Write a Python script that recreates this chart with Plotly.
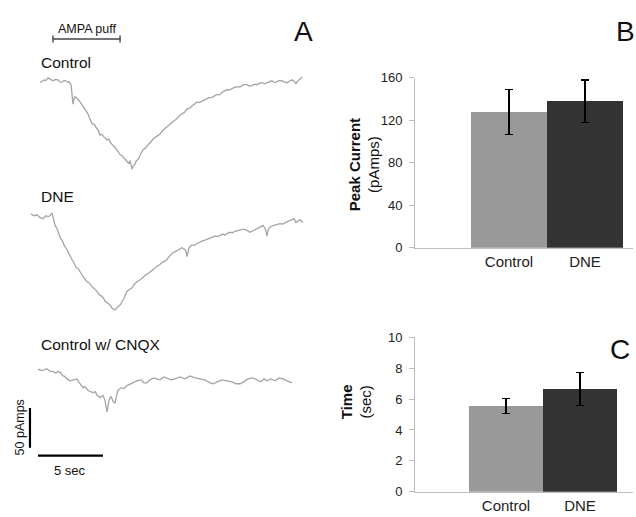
import plotly.graph_objects as go

W, H = 636, 517

# ---------------- Data: whole-cell current traces (time in s, current in pA) -------------
ctrl_t = [0.69, 0.85, 1.0, 1.15, 1.31, 1.5, 1.69, 1.85, 2.08, 2.23, 2.38, 2.54, 2.69, 2.85, 2.92,
          3.08, 3.15, 3.23, 3.31, 3.38, 3.5, 3.62, 3.8, 4.0, 4.15, 4.38, 4.5, 4.69, 4.85, 5.08,
          5.2, 5.31, 5.46, 5.62, 5.75, 5.85, 6.0, 6.08, 6.2, 6.31, 6.46, 6.62, 6.75, 6.85, 7.0,
          7.23, 7.35, 7.46, 7.55, 7.62, 7.7, 7.77, 7.85, 8.0, 8.1, 8.23, 8.4, 8.62, 8.75, 8.92,
          9.05, 9.15, 9.4, 9.69, 9.9, 10.15, 10.4, 10.69, 10.9, 11.23, 11.4, 11.62, 11.8, 12.0,
          12.2, 12.38, 12.55, 12.77, 12.95, 13.15, 13.35, 13.54, 13.7, 13.92, 14.1, 14.31, 14.5,
          14.69, 14.9, 15.08, 15.25, 15.46, 15.65, 15.85, 16.05, 16.23, 16.4, 16.62, 16.8, 17.0,
          17.2, 17.38, 17.55, 17.77, 17.95, 18.15, 18.35, 18.54, 18.7, 18.92, 19.1, 19.31, 19.5,
          19.69, 19.9, 20.08, 20.25, 20.38, 20.55, 20.7, 20.85]
ctrl_i = [-1.2, 1.0, 2.4, 1.5, 4.9, 3.0, 1.2, 2.8, 2.4, -0.5, 0.0, 1.5, 1.2, -0.8, 0.0,
          -3.7, -13.4, -28.0, -22.0, -18.3, -20.5, -22.0, -26.0, -30.5, -35.0, -40.2, -45.5, -52.4, -53.5, -58.5,
          -62.0, -67.0, -66.0, -69.5, -71.0, -73.2, -72.0, -75.6, -78.0, -80.5, -82.0, -86.6, -89.0, -91.5, -93.0,
          -97.6, -99.0, -101.2, -103.0, -98.8, -104.0, -109.8, -106.0, -103.7, -99.0, -97.6, -92.0, -85.4, -84.0, -80.5,
          -78.5, -76.8, -72.0, -68.3, -66.0, -61.0, -57.5, -52.4, -50.5, -46.3, -43.0, -40.2, -38.5, -34.1,
          -33.5, -30.5, -28.0, -25.6, -26.0, -24.4, -22.5, -22.0, -20.0, -19.5, -17.5, -15.9, -16.5,
          -13.4, -11.5, -9.8, -10.5, -8.5, -7.0, -6.1, -6.8, -4.9, -3.5, -3.7, -5.5, -4.9,
          -3.0, -3.7, -2.0, -1.2, -2.5, -1.2, 0.5, 1.2, -0.8, 0.0, 1.8, 1.2, -0.5,
          -1.2, 1.0, 2.4, 0.5, -2.4, 1.5, 3.0, 6.1]

dne_t = [0.0, 0.23, 0.46, 0.69, 0.92, 1.15, 1.3, 1.46, 1.62, 1.75, 1.85, 2.0, 2.08, 2.23, 2.4,
         2.54, 2.77, 3.0, 3.15, 3.3, 3.46, 3.62, 3.77, 3.92, 4.08, 4.31, 4.46, 4.62, 4.77, 4.92,
         5.08, 5.23, 5.46, 5.6, 5.69, 5.92, 6.08, 6.23, 6.35, 6.46, 6.58, 6.69, 6.85, 7.0, 7.15,
         7.38, 7.62, 7.8, 7.92, 8.15, 8.35, 8.54, 8.7, 8.92, 9.1, 9.31, 9.5, 9.69, 9.9, 10.08,
         10.3, 10.46, 10.69, 10.92, 11.1, 11.31, 11.45, 11.62, 11.85, 11.95, 12.0, 12.08, 12.15, 12.38,
         12.55, 12.69, 12.85, 13.0, 13.2, 13.38, 13.55, 13.77, 13.95, 14.15, 14.35, 14.54, 14.75, 14.92,
         15.1, 15.31, 15.5, 15.69, 15.9, 16.08, 16.25, 16.46, 16.65, 16.85, 17.0, 17.15, 17.3, 17.46,
         17.65, 17.85, 18.0, 18.08, 18.15, 18.22, 18.31, 18.45, 18.62, 18.8, 18.92, 19.15, 19.35,
         19.54, 19.75, 19.92, 20.08, 20.23, 20.38, 20.55, 20.69, 20.92]
dne_i = [2.4, 0.0, 1.2, -2.4, -3.7, 0.0, -1.0, 0.0, 3.7, -4.0, -12.2, -16.0, -20.7, -26.8, -31.0,
         -36.6, -42.7, -51.2, -54.9, -59.0, -64.6, -66.5, -70.7, -74.0, -78.0, -82.9, -84.0, -87.8, -90.0, -91.5,
         -95.0, -98.8, -101.2, -104.0, -107.3, -109.8, -112.0, -115.9, -117.0, -118.3, -116.0, -114.6, -112.2, -108.0, -103.7,
         -95.1, -92.7, -90.0, -86.6, -82.9, -81.0, -78.0, -76.0, -73.2, -71.5, -68.3, -66.0, -63.4, -61.5, -58.5,
         -57.0, -54.9, -50.0, -46.3, -45.0, -42.7, -41.0, -40.2, -42.7, -46.0, -51.2, -44.0, -40.2, -36.6,
         -37.5, -35.4, -34.0, -32.9, -31.5, -30.5, -29.5, -28.0, -27.0, -25.6, -26.0, -24.4, -23.0, -24.4,
         -22.0, -20.7, -21.5, -19.5, -18.5, -18.3, -17.0, -17.1, -19.0, -20.7, -19.5, -18.0, -17.5, -15.9,
         -14.0, -12.2, -15.9, -20.0, -25.6, -19.0, -15.9, -13.5, -12.2, -11.5, -11.0, -9.8, -10.5,
         -8.5, -7.0, -6.1, -5.0, -3.7, -8.5, -6.0, -4.9, -8.5]

cnqx_t = [0.54, 0.8, 1.0, 1.2, 1.46, 1.7, 1.92, 2.1, 2.23, 2.46, 2.6, 2.77, 3.0, 3.23, 3.54,
          3.77, 4.0, 4.15, 4.31, 4.54, 4.77, 4.95, 5.08, 5.31, 5.54, 5.69, 5.85, 6.0, 6.15, 6.31,
          6.46, 6.62, 6.69, 6.92, 7.15, 7.38, 7.69, 7.92, 8.15, 8.46, 8.69, 8.92, 9.15, 9.46, 9.69,
          9.92, 10.23, 10.46, 10.77, 11.08, 11.46, 11.85, 12.23, 12.62, 13.0, 13.38, 13.77, 14.0, 14.31,
          14.69, 15.08, 15.46, 15.77, 16.08, 16.38, 16.69, 17.08, 17.38, 17.69, 17.92, 18.15, 18.46,
          18.77, 19.08, 19.38, 19.69, 19.92, 20.08]
cnqx_i = [0.0, -1.5, -1.2, 0.5, -2.4, -3.0, -4.9, -3.0, -3.7, -8.5, -9.0, -12.2, -14.6, -13.4, -12.2,
          -18.3, -23.2, -22.0, -25.6, -28.0, -29.3, -28.5, -32.9, -35.4, -32.9, -39.0, -53.7, -39.0, -34.1, -40.2,
          -42.7, -30.5, -26.8, -23.2, -24.4, -20.7, -18.3, -15.9, -14.6, -13.4, -17.1, -17.1, -13.4, -11.0, -12.2,
          -13.4, -9.8, -11.0, -13.4, -12.2, -9.8, -12.2, -8.5, -11.0, -12.2, -13.4, -17.1, -18.3, -15.9,
          -13.4, -14.6, -15.9, -18.3, -18.3, -15.9, -12.2, -11.0, -13.4, -15.9, -12.2, -14.6, -12.2,
          -14.6, -11.0, -12.2, -14.6, -15.9, -17.1]

trace_labels = ["Control", "DNE", "Control w/ CNQX"]

# scale bars / stimulus
scale_pa = 50          # pA
scale_s = 5            # s
puff_on, puff_off = 1.69, 6.85   # s

# ---------------- Data: bar charts ----------------
groups = ["Control", "DNE"]
peak_mean = [128, 138]
peak_err = [21, 20]
time_mean = [5.55, 6.65]
time_err = [0.5, 1.08]
bar_colors = ["#999999", "#333333"]

# ---------------- layout helpers (pixel -> paper) ----------------
PX_PER_S = 13.0
PX_PER_PA = 0.82
T0_PX = 31.0


def pxx(x):
    return x / W


def pxy(y):
    return 1 - y / H


def trace_yaxis(top, bottom, zero):
    return dict(domain=[1 - bottom / H, 1 - top / H],
                range=[-(bottom - zero) / PX_PER_PA, (zero - top) / PX_PER_PA],
                visible=False, anchor="x", fixedrange=True)


TRACE_COLOR = "#a4a4a4"
AXCOL = "#bdbdbd"
FONT = "Liberation Sans, Arial, sans-serif"

fig = go.Figure()

fig.add_trace(go.Scatter(x=ctrl_t, y=ctrl_i, mode="lines", xaxis="x", yaxis="y",
                         line=dict(color=TRACE_COLOR, width=1.3), showlegend=False))
fig.add_trace(go.Scatter(x=dne_t, y=dne_i, mode="lines", xaxis="x", yaxis="y2",
                         line=dict(color=TRACE_COLOR, width=1.3), showlegend=False))
fig.add_trace(go.Scatter(x=cnqx_t, y=cnqx_i, mode="lines", xaxis="x", yaxis="y3",
                         line=dict(color=TRACE_COLOR, width=1.3), showlegend=False))

# stimulus bar (AMPA puff), in control trace axis
puff_level = 53.7
fig.add_trace(go.Scatter(x=[puff_on, puff_off], y=[puff_level, puff_level], mode="lines+markers",
                         xaxis="x", yaxis="y", line=dict(color="#444444", width=1.4),
                         marker=dict(symbol="line-ns-open", size=5, color="#444444",
                                     line=dict(width=1.4, color="#444444")),
                         showlegend=False))

# scale bars in CNQX axis
vbar_t, vbar_top = -0.08, -48.8
fig.add_trace(go.Scatter(x=[vbar_t, vbar_t], y=[vbar_top, vbar_top - scale_pa], mode="lines",
                         xaxis="x", yaxis="y3", line=dict(color="black", width=2.2),
                         showlegend=False))
hbar_t0, hbar_level = 0.54, -108.5
fig.add_trace(go.Scatter(x=[hbar_t0, hbar_t0 + scale_s], y=[hbar_level, hbar_level], mode="lines",
                         xaxis="x", yaxis="y3", line=dict(color="black", width=2.2),
                         showlegend=False))

# bar charts
err_style = dict(type="data", color="black", thickness=1.3, width=4)
fig.add_trace(go.Bar(x=groups, y=peak_mean, xaxis="x2", yaxis="y4",
                     marker=dict(color=bar_colors, line=dict(width=0)),
                     error_y=dict(array=peak_err, **err_style), showlegend=False))
fig.add_trace(go.Bar(x=groups, y=time_mean, xaxis="x3", yaxis="y5",
                     marker=dict(color=bar_colors, line=dict(width=0)),
                     error_y=dict(array=time_err, **err_style), showlegend=False))

bar_y_common = dict(showline=True, linecolor=AXCOL, linewidth=1, ticks="outside",
                    ticklen=5, tickcolor=AXCOL, showgrid=False, zeroline=False,
                    tickfont=dict(family=FONT, size=13, color="#222222"),
                    ticklabelstandoff=4, fixedrange=True)
bar_x_common = dict(showline=True, linecolor=AXCOL, linewidth=1, ticks="",
                    showgrid=False, zeroline=False,
                    tickfont=dict(family=FONT, size=15, color="#222222"), fixedrange=True)

fig.update_layout(
    width=W, height=H, margin=dict(l=0, r=0, t=0, b=0),
    paper_bgcolor="white", plot_bgcolor="rgba(0,0,0,0)",
    bargap=0,
    font=dict(family=FONT, color="#111111"),
    xaxis=dict(domain=[0, pxx(320)], range=[-T0_PX / PX_PER_S, (320 - T0_PX) / PX_PER_S],
               visible=False, anchor="y", fixedrange=True),
    yaxis=trace_yaxis(10, 180, 77),
    yaxis2=trace_yaxis(180, 330, 215),
    yaxis3=trace_yaxis(330, 500, 373),
    xaxis2=dict(domain=[pxx(415), pxx(633)], anchor="y4", range=[-1.237, 1.632], **bar_x_common),
    yaxis4=dict(domain=[pxy(248), pxy(73)], anchor="x2", range=[0, 160],
                tickvals=[0, 40, 80, 120, 160], **bar_y_common),
    xaxis3=dict(domain=[pxx(415), pxx(633)], anchor="y5", range=[-1.23, 1.716], **bar_x_common),
    yaxis5=dict(domain=[pxy(499.3), pxy(340)], anchor="x3", range=[0, 10],
                tickvals=[0, 2, 4, 6, 8, 10], **bar_y_common),
)

ann = []


def add_text(text, x, y, size, xanchor="center", angle=0, color="#111111"):
    ann.append(dict(text=text, x=pxx(x), y=pxy(y), xref="paper", yref="paper",
                    showarrow=False, xanchor=xanchor, yanchor="middle", textangle=angle,
                    font=dict(family=FONT, size=size, color=color)))


add_text("AMPA puff", 87, 23, 12.5)
add_text(trace_labels[0], 39, 57, 15.5, xanchor="left")
add_text(trace_labels[1], 39, 195, 15.5, xanchor="left")
add_text(trace_labels[2], 39, 348, 15.5, xanchor="left")
add_text("50 pAmps", 20, 433, 12.5, angle=-90)
add_text("5 sec", 70, 477, 13)
add_text("A", 303, 25, 28)
add_text("B", 625, 25, 28)
add_text("C", 620, 353, 28)
add_text("<b>Peak Current</b><br>(pAmps)", 364, 163, 15, angle=-90)
add_text("<b>Time</b><br>(sec)", 356, 407, 15, angle=-90)

fig.update_layout(annotations=ann)

fig.write_html("out.html")
